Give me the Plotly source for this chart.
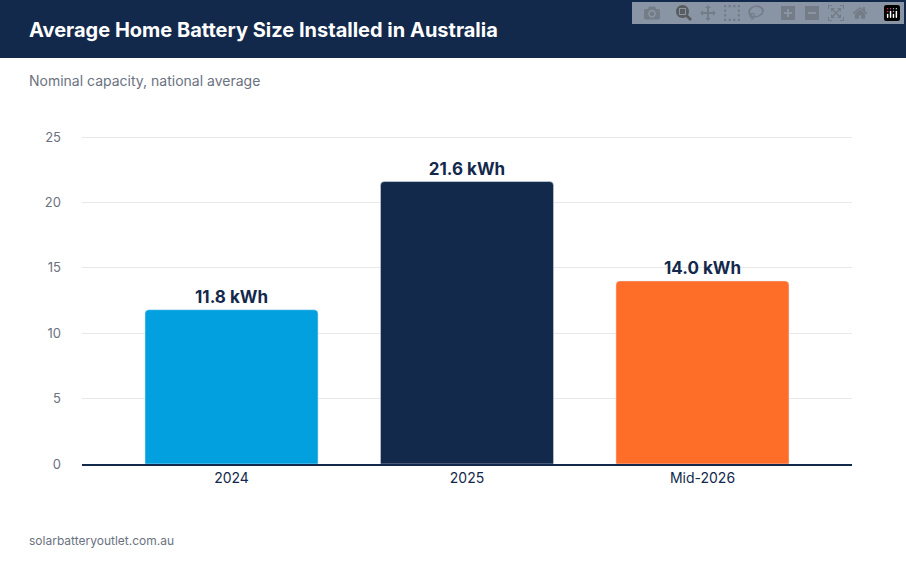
import plotly.graph_objects as go

categories = ["2024", "2025", "Mid-2026"]
values = [11.8, 21.6, 14.0]
labels = ["11.8 kWh", "21.6 kWh", "14.0 kWh"]
colors = ["#03A0E0", "#13294B", "#FF6E28"]
y_ticks = [0, 5, 10, 15, 20, 25]

W, H = 906, 563
L, R, T, B = 82, 54, 124, 99
pw, ph = W - L - R, H - T - B

def px_x(px):
    return (px - L) / pw

def px_y(py):
    return (H - B - py) / ph

fig = go.Figure(go.Bar(
    x=categories, y=values, marker_color=colors, width=0.735,
    marker_cornerradius=4, text=labels, textposition="outside",
    textfont=dict(family="Inter", size=17, color="#13294B", weight="bold"),
    cliponaxis=False,
))

fig.add_shape(type="rect", xref="paper", yref="paper",
              x0=px_x(0), x1=px_x(W), y0=px_y(58), y1=px_y(0),
              fillcolor="#13294B", line_width=0, layer="below")

fig.add_annotation(text="<b>Average Home Battery Size Installed in Australia</b>",
                   xref="paper", yref="paper", x=px_x(27), y=px_y(30),
                   xanchor="left", yanchor="middle", showarrow=False,
                   font=dict(family="Inter", size=20, color="white"))
fig.add_annotation(text="Nominal capacity, national average",
                   xref="paper", yref="paper", x=px_x(27), y=px_y(80),
                   xanchor="left", yanchor="middle", showarrow=False,
                   font=dict(family="Inter", size=14, color="#6B7280"))
fig.add_annotation(text="solarbatteryoutlet.com.au",
                   xref="paper", yref="paper", x=px_x(27), y=px_y(540),
                   xanchor="left", yanchor="middle", showarrow=False,
                   font=dict(family="Inter", size=12, color="#6B7280"))

fig.update_layout(
    width=W, height=H, margin=dict(l=L, r=R, t=T, b=B),
    paper_bgcolor="white", plot_bgcolor="white", showlegend=False,
    font=dict(family="Inter"),
)
fig.update_xaxes(range=[-0.635, 2.635], showline=True, linecolor="#13294B", linewidth=2,
                 tickfont=dict(size=14, color="#13294B"), ticks="")
fig.update_yaxes(range=[0, 26], tickvals=y_ticks, gridcolor="#E8E8E8",
                 tickfont=dict(size=13, color="#6B7280"), zeroline=False, ticklabelstandoff=20)

fig.write_html("out.html", post_script="document.body.style.margin='0';")
